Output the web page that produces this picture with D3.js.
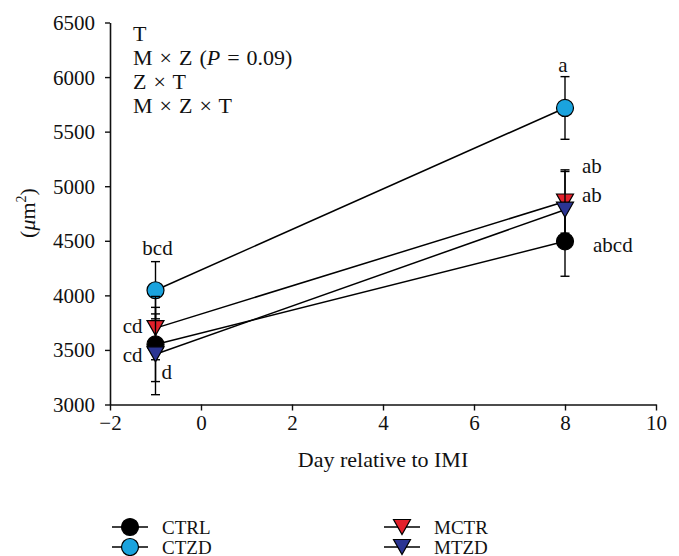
<!DOCTYPE html>
<html>
<head>
<meta charset="utf-8">
<script src="https://cdn.jsdelivr.net/npm/d3@7"></script>
<style>
  html, body { margin: 0; padding: 0; background: #fff; }
  svg { display: block; }
  text { font-family: "Liberation Serif", "DejaVu Serif", serif; fill: #111; }
</style>
</head>
<body>
<svg id="chart" width="679" height="556"></svg>
<script>
// ---- data ----
const days = [-1, 8];
const seriesNames = ["CTRL", "CTZD", "MCTR", "MTZD"];
const ctrlMean = [3550, 4495];
const ctrlSE   = [340, 320];
const ctzdMean = [4047, 5717];
const ctzdSE   = [262, 287];
const mctrMean = [3700, 4860];
const mctrSE   = [290, 290];
const mtzdMean = [3460, 4785];
const mtzdSE   = [370, 350];
const xTicks = [-2, 0, 2, 4, 6, 8, 10];
const yTicks = [3000, 3500, 4000, 4500, 5000, 5500, 6000, 6500];
const effects = ["T", "M × Z (P = 0.09)", "Z × T", "M × Z × T"];
// significance letters: [series, day index, text]
const sigLetters = [
  ["CTZD", 0, "bcd"], ["CTZD", 1, "a"],
  ["MCTR", 0, "cd"], ["MTZD", 0, "cd"], ["CTRL", 0, "d"],
  ["MCTR", 1, "ab"], ["MTZD", 1, "ab"], ["CTRL", 1, "abcd"]
];

// ---- styles ----
const styles = {
  CTRL: { shape: "circle", fill: "#000000" },
  CTZD: { shape: "circle", fill: "#1aa3de" },
  MCTR: { shape: "tri", fill: "#e3212b" },
  MTZD: { shape: "tri", fill: "#2b3593" }
};
const means = { CTRL: ctrlMean, CTZD: ctzdMean, MCTR: mctrMean, MTZD: mtzdMean };
const ses = { CTRL: ctrlSE, CTZD: ctzdSE, MCTR: mctrSE, MTZD: mtzdSE };

const svg = d3.select("#chart");
const x = d3.scaleLinear().domain([-2, 10]).range([110, 656]);
const y = d3.scaleLinear().domain([3000, 6500]).range([404.5, 22.5]);
const FS = 21, FL = 22, FG = 19;

// axes
const yAxis = d3.axisLeft(y).tickValues(yTicks).tickSize(5).tickSizeOuter(0).tickFormat(d3.format("d"));
const gy = svg.append("g").attr("transform", `translate(${x(-2)},0)`).call(yAxis);
gy.select(".domain").attr("stroke", "#111").attr("stroke-width", 1.6);
gy.selectAll(".tick line").attr("stroke", "#111").attr("stroke-width", 1.4);
gy.selectAll(".tick text").attr("font-size", FS).attr("x", -15).attr("dy", "0.33em")
  .style("font-family", '"Liberation Serif", serif').attr("fill", "#111");

const xAxis = d3.axisBottom(x).tickValues(xTicks).tickSize(6).tickSizeOuter(0)
  .tickFormat(d => d < 0 ? "−" + Math.abs(d) : String(d));
const gx = svg.append("g").attr("transform", `translate(0,${y(3000)})`).call(xAxis);
gx.select(".domain").attr("stroke", "#111").attr("stroke-width", 1.6);
gx.selectAll(".tick line").attr("stroke", "#111").attr("stroke-width", 1.4);
gx.selectAll(".tick text").attr("font-size", FS).attr("y", 11).attr("dy", "0.71em")
  .style("font-family", '"Liberation Serif", serif').attr("fill", "#111");

// axis titles
svg.append("text").attr("x", 383).attr("y", 467).attr("text-anchor", "middle")
  .attr("font-size", FL).text("Day relative to IMI");
const yt = svg.append("text").attr("transform", `translate(35,${213}) rotate(-90)`)
  .attr("text-anchor", "middle").attr("font-size", FL);
yt.append("tspan").text("(");
yt.append("tspan").attr("font-style", "italic").text("μ");
yt.append("tspan").text("m");
yt.append("tspan").attr("font-size", 14).attr("dy", -9).text("2");
yt.append("tspan").attr("dy", 9).text(")");

// effects annotation
effects.forEach((t, i) => {
  const tx = svg.append("text").attr("x", 133).attr("y", 41 + i * 24).attr("font-size", FL)
    .attr("word-spacing", 1.5);
  if (t.includes("P =")) {
    const [a, b] = t.split("P");
    tx.append("tspan").text(a);
    tx.append("tspan").attr("font-style", "italic").text("P");
    tx.append("tspan").text(b);
  } else tx.text(t);
});

function drawMarker(g, shape, fill, cx, cy) {
  if (shape === "circle") {
    g.append("circle").attr("cx", cx).attr("cy", cy).attr("r", 8.5)
      .attr("fill", fill).attr("stroke", "#000").attr("stroke-width", 1.2);
  } else {
    const w = 8.5, h = 7.5;
    g.append("path").attr("d", `M${cx - w},${cy - h}L${cx + w},${cy - h}L${cx},${cy + h}Z`)
      .attr("fill", fill).attr("stroke", "#000").attr("stroke-width", 1.2);
  }
}

// series
seriesNames.forEach(name => {
  const g = svg.append("g");
  const pts = days.map((d, i) => [x(d), y(means[name][i])]);
  g.append("path").attr("d", d3.line()(pts)).attr("fill", "none")
    .attr("stroke", "#000").attr("stroke-width", 1.5);
  days.forEach((d, i) => {
    const cx = x(d), top = y(means[name][i] + ses[name][i]), bot = y(means[name][i] - ses[name][i]);
    g.append("line").attr("x1", cx).attr("x2", cx).attr("y1", top).attr("y2", bot)
      .attr("stroke", "#000").attr("stroke-width", 1.4);
    [top, bot].forEach(yy => g.append("line").attr("x1", cx - 4.5).attr("x2", cx + 4.5)
      .attr("y1", yy).attr("y2", yy).attr("stroke", "#000").attr("stroke-width", 1.4));
  });
  days.forEach((d, i) => drawMarker(g, styles[name].shape, styles[name].fill, x(d), y(means[name][i])));
});

// significance letters
const letterPos = {
  "CTZD0": (px, py) => [px + 2, y(ctzdMean[0] + ctzdSE[0]) - 7, "middle"],
  "CTZD1": (px, py) => [px - 2, y(ctzdMean[1] + ctzdSE[1]) - 5, "middle"],
  "MCTR0": (px, py) => [px - 13, py + 5, "end"],
  "MTZD0": (px, py) => [px - 13, py + 8, "end"],
  "CTRL0": (px, py) => [px + 6, py + 35, "start"],
  "MCTR1": (px, py) => [px + 17, y(mctrMean[1] + mctrSE[1]) + 3, "start"],
  "MTZD1": (px, py) => [px + 17, py - 8, "start"],
  "CTRL1": (px, py) => [px + 28, py + 11, "start"]
};
sigLetters.forEach(([name, i, t]) => {
  const px = x(days[i]), py = y(means[name][i]);
  const [lx, ly, anchor] = letterPos[name + i](px, py);
  svg.append("text").attr("x", lx).attr("y", ly).attr("text-anchor", anchor)
    .attr("font-size", FS).text(t);
});

// legend
const legendItems = [
  ["CTRL", 130, 527], ["CTZD", 130, 547],
  ["MCTR", 402, 527], ["MTZD", 402, 547]
];
legendItems.forEach(([name, cx, cy]) => {
  const g = svg.append("g");
  g.append("line").attr("x1", cx - 18).attr("x2", cx + 18).attr("y1", cy).attr("y2", cy)
    .attr("stroke", "#000").attr("stroke-width", 1.5);
  drawMarker(g, styles[name].shape, styles[name].fill, cx, cy);
  g.append("text").attr("x", cx + 32).attr("y", cy + 6.5).attr("font-size", FG).text(name);
});
</script>
</body>
</html>
